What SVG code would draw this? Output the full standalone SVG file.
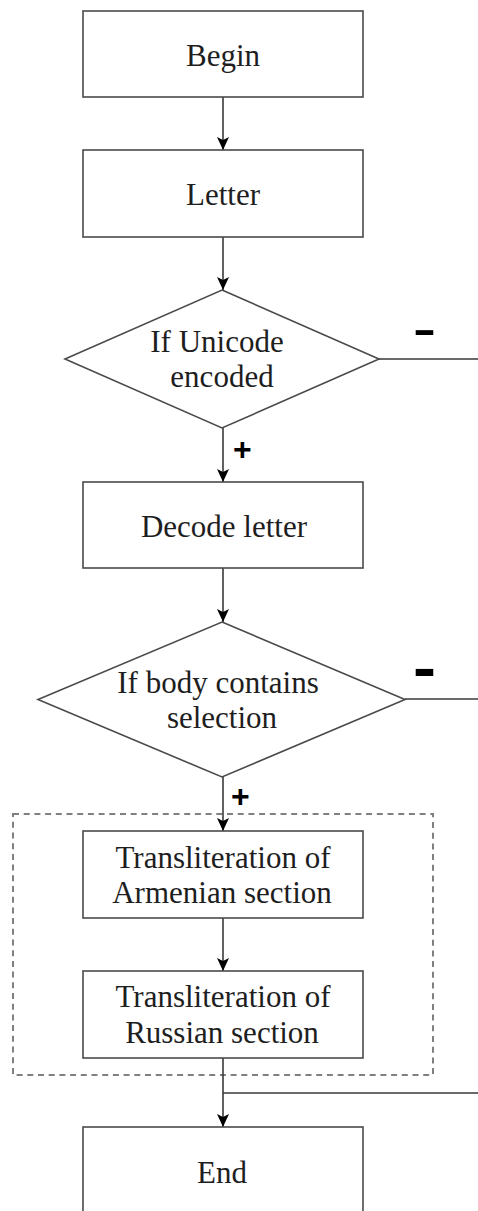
<svg xmlns="http://www.w3.org/2000/svg" width="478" height="1211" viewBox="0 0 478 1211">
  <defs>
    <style>
      .box { fill: #ffffff; stroke: #4a4a4a; stroke-width: 1.6; }
      .group { fill: none; stroke: #808080; stroke-width: 2; stroke-dasharray: 6 4.7; }
      .edge { fill: none; stroke: #3a3a3a; stroke-width: 1.6; }
      .label { font-family: "Liberation Serif", "Times New Roman", serif; font-size: 31px; fill: #1e1e1e; text-anchor: middle; }
      .sign { font-family: "Liberation Sans", Arial, sans-serif; font-weight: bold; fill: #000000; }
    </style>
    <marker id="arrow" viewBox="-14 -7 15 14" refX="0" refY="0" markerWidth="15" markerHeight="14" markerUnits="userSpaceOnUse" orient="auto">
      <path d="M0,0 L-13,-6 L-10,0 L-13,6 Z" fill="#000000"/>
    </marker>
  </defs>

  <!-- process group outline -->
  <rect class="group" x="13" y="814" width="420" height="261"/>

  <!-- connectors -->
  <g id="connectors">
    <line class="edge" x1="223" y1="97" x2="223" y2="150" marker-end="url(#arrow)"/>
    <line class="edge" x1="223" y1="237" x2="223" y2="290" marker-end="url(#arrow)"/>
    <line class="edge" x1="223" y1="428" x2="223" y2="482" marker-end="url(#arrow)"/>
    <line class="edge" x1="223" y1="568" x2="223" y2="622" marker-end="url(#arrow)"/>
    <line class="edge" x1="223" y1="777" x2="223" y2="831" marker-end="url(#arrow)"/>
    <line class="edge" x1="223" y1="918" x2="223" y2="971" marker-end="url(#arrow)"/>
    <line class="edge" x1="223" y1="1058" x2="223" y2="1127" marker-end="url(#arrow)"/>
    <!-- "no" branches leave to the right and rejoin above End -->
    <path class="edge" d="M379,359 H500 V1093 H223"/>
    <path class="edge" d="M405,699 H500"/>
    <text class="sign" font-size="32" x="233" y="460">+</text>
    <text class="sign" font-size="32" x="231" y="807">+</text>
    <text class="sign" font-size="40" text-anchor="middle" transform="translate(424.5,342.7) scale(1.73,1)">-</text>
    <text class="sign" font-size="40" text-anchor="middle" transform="translate(424.5,687.5) scale(1.73,1.5)">-</text>
  </g>

  <g id="begin">
    <rect class="box" x="83" y="11" width="280" height="86"/>
    <text class="label" x="223" y="66">Begin</text>
  </g>

  <g id="letter">
    <rect class="box" x="83" y="150" width="280" height="87"/>
    <text class="label" x="223" y="205">Letter</text>
  </g>

  <g id="if-unicode">
    <polygon class="box" points="222,290 379,359 222,428 65,359"/>
    <text class="label" x="217" y="352">If Unicode</text>
    <text class="label" x="222" y="387">encoded</text>
  </g>

  <g id="decode">
    <rect class="box" x="83" y="482" width="280" height="86"/>
    <text class="label" x="224" y="537">Decode letter</text>
  </g>

  <g id="if-selection">
    <polygon class="box" points="222,622 405,699.5 222,777 38,699.5"/>
    <text class="label" x="218" y="693">If body contains</text>
    <text class="label" x="222" y="728">selection</text>
  </g>

  <g id="armenian">
    <rect class="box" x="83" y="831" width="280" height="87"/>
    <text class="label" x="223" y="868">Transliteration of</text>
    <text class="label" x="222" y="903">Armenian section</text>
  </g>

  <g id="russian">
    <rect class="box" x="83" y="971" width="280" height="87"/>
    <text class="label" x="223" y="1007">Transliteration of</text>
    <text class="label" x="222" y="1043">Russian section</text>
  </g>

  <g id="end">
    <rect class="box" x="83" y="1127" width="280" height="120"/>
    <text class="label" x="222" y="1183">End</text>
  </g>
</svg>
